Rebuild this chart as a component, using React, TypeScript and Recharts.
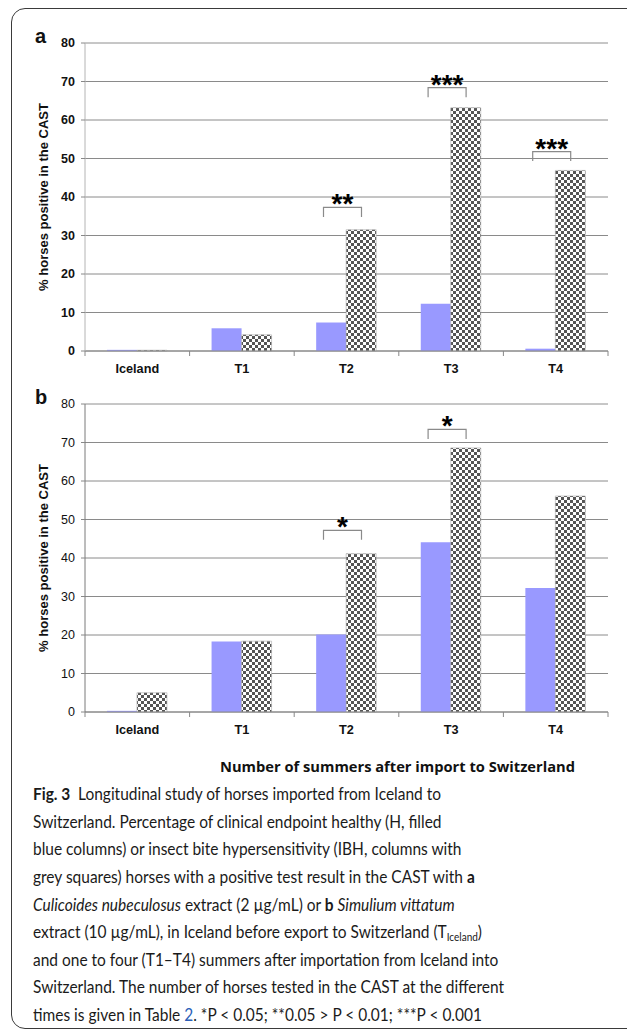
import React, { useLayoutEffect, useRef, useState } from 'react';
import { BarChart, Bar, XAxis, YAxis, CartesianGrid, ReferenceLine, ReferenceDot } from 'recharts';

const categories = ['Iceland', 'T1', 'T2', 'T3', 'T4'];
const yTicks = [0, 10, 20, 30, 40, 50, 60, 70, 80];

// panel a: Culicoides nubeculosus
const healthyA = [0.3, 5.9, 7.4, 12.3, 0.6];
const ibhA = [0.2, 4.2, 31.5, 63.2, 46.9];
const starsA = ['', '', '**', '***', '***'];
const bracketA = [null, null, 37.3, 68.4, 51.8];

// panel b: Simulium vittatum
const healthyB = [0.3, 18.3, 20.1, 44.1, 32.2];
const ibhB = [5.0, 18.4, 41.1, 68.6, 56.1];
const starsB = ['', '', '*', '*', ''];
const bracketB = [null, null, 47.2, 73.4, null];

const captionLines = [
  'Longitudinal study of horses imported from Iceland to',
  'Switzerland. Percentage of clinical endpoint healthy (H, filled',
  'blue columns) or insect bite hypersensitivity (IBH, columns with',
  'grey squares) horses with a positive test result in the CAST with ',
  ' extract (2 µg/mL) or ',
  'extract (10 µg/mL), in Iceland before export to Switzerland (T',
  'and one to four (T1–T4) summers after importation from Iceland into',
  'Switzerland. The number of horses tested in the CAST at the different',
  'times is given in Table ',
];
const captionEnds = [455, 391, 468, 477, 473, 494, 513, 516, 453];

const W = 627;
const CH = 390;
const M = { top: 43, right: 19, bottom: 9, left: 45 };
const YW = 40;
const PLOT_W = W - M.left - M.right - YW;
const HALF_BAND = PLOT_W / categories.length / 2;
const FONT = '"Liberation Sans", Arial, sans-serif';
const BLUE = '#9999ff';
const CAP_X = 33;

function rows(h: number[], ibh: number[]) {
  return categories.map((c, i) => ({ cat: c, h: h[i], ibh: ibh[i] }));
}

function XTick(props: any) {
  const { x, y, payload, index } = props;
  return (
    <g>
      <line x1={x - HALF_BAND} x2={x - HALF_BAND} y1={y} y2={y + 5} stroke="#888" />
      {index === categories.length - 1 && (
        <line x1={x + HALF_BAND} x2={x + HALF_BAND} y1={y} y2={y + 5} stroke="#888" />
      )}
      <text x={x} y={y + 21.5} textAnchor="middle" fontFamily={FONT} fontWeight={700} fontSize={12.7} fill="#111">
        {payload.value}
      </text>
    </g>
  );
}

function bracketShape(stars: string) {
  return (p: any) => {
    const cx = p.cx - 4;
    const cy = p.cy;
    return (
      <g>
        <path d={`M${cx - 19},${cy + 9.5} V${cy} H${cx + 19} V${cy + 9.5}`} stroke="#8a8a8a" strokeWidth={1.2} fill="none" />
        <text x={cx} y={cy + 6} textAnchor="middle" fontFamily={FONT} fontWeight={700} fontSize={28} fill="#000">
          {stars}
        </text>
      </g>
    );
  };
}

function Panel({ top, h, ibh, stars, brackets, boldTicks, axisColor, pattern }: {
  top: number; h: number[]; ibh: number[]; stars: string[]; brackets: (number | null)[];
  boldTicks: boolean; axisColor: string; pattern: string;
}) {
  return (
    <div style={{ position: 'absolute', left: 0, top }}>
      <BarChart width={W} height={CH} data={rows(h, ibh)} margin={M} barCategoryGap="21%" barGap={0}>
        <CartesianGrid vertical={false} stroke="#8a8a8a" />
        <XAxis dataKey="cat" height={30} tickLine={false} tickSize={0} tickMargin={0}
          axisLine={{ stroke: '#888' }} tick={(p: any) => <XTick {...p} />} interval={0} />
        <YAxis domain={[0, 80]} ticks={yTicks} width={YW} tickSize={4} tickMargin={6}
          tickLine={{ stroke: '#888' }} axisLine={{ stroke: axisColor }}
          tick={{ fontSize: 12.5, fontFamily: FONT, fontWeight: boldTicks ? 700 : 400, fill: '#111' }} />
        <YAxis yAxisId="frame" orientation="right" domain={[0, 80]} width={0} tick={false}
          tickLine={false} axisLine={{ stroke: '#c8c8c8' }} />
        <ReferenceLine y={80} stroke="#c8c8c8" />
        <Bar dataKey="h" fill={BLUE} isAnimationActive={false} />
        <Bar dataKey="ibh" fill={`url(#${pattern})`} stroke="#aaa" strokeWidth={0.6} isAnimationActive={false} />
        {categories.map((c, i) =>
          brackets[i] == null ? null : (
            <ReferenceDot key={c} x={c} y={brackets[i] as number} r={0} shape={bracketShape(stars[i])} />
          ),
        )}
      </BarChart>
    </div>
  );
}

export default function App() {
  const base = 800.7;
  const lh = 27.6;
  const refs = useRef<(HTMLSpanElement | null)[]>([]);
  const [sx, setSx] = useState(1);

  // one horizontal scale for the whole caption, fitted to the reference line lengths
  useLayoutEffect(() => {
    const measure = () => {
      let nat = 0;
      let tgt = 0;
      refs.current.forEach((el, i) => {
        if (el && el.offsetWidth > 0) {
          nat += el.offsetWidth;
          tgt += captionEnds[i] - CAP_X;
        }
      });
      if (nat > 0) setSx(tgt / nat);
    };
    measure();
    (document as any).fonts?.ready?.then(measure);
  }, []);

  const line = (i: number, content: React.ReactNode) => (
    <span
      key={i}
      ref={(el) => { refs.current[i] = el; }}
      style={{
        position: 'absolute', left: CAP_X, top: base + lh * i - 16.6, whiteSpace: 'nowrap',
        fontFamily: 'Lato, "Open Sans", sans-serif', fontSize: 17, lineHeight: '20px', color: '#1a1a1a',
        transform: `scaleX(${sx})`, transformOrigin: '0 0',
      }}
    >
      {content}
    </span>
  );

  return (
    <div style={{ position: 'absolute', left: 0, top: 0, width: W, height: 1029, overflow: 'hidden', background: '#fff' }}>
      <svg width={0} height={0} style={{ position: 'absolute' }}>
        <defs>
          <pattern id="checkA" width={6} height={6} patternUnits="userSpaceOnUse">
            <rect width={6} height={6} fill="#fff" />
            <rect width={3} height={3} fill="#555" />
            <rect x={3} y={3} width={3} height={3} fill="#555" />
          </pattern>
          <pattern id="checkB" width={6} height={6} patternUnits="userSpaceOnUse" y={1}>
            <rect width={6} height={6} fill="#fff" />
            <rect width={3} height={3} fill="#555" />
            <rect x={3} y={3} width={3} height={3} fill="#555" />
          </pattern>
        </defs>
      </svg>
      <div style={{ position: 'absolute', left: 11, top: 8, width: 660, height: 1019, border: '1.3px solid #3a3a3a', borderRadius: 14 }} />
      <Panel top={0} h={healthyA} ibh={ibhA} stars={starsA} brackets={bracketA} boldTicks axisColor="#b4b4b4" pattern="checkA" />
      <Panel top={361} h={healthyB} ibh={ibhB} stars={starsB} brackets={bracketB} boldTicks={false} axisColor="#7a7a7a" pattern="checkB" />
      <svg width={W} height={790} style={{ position: 'absolute', left: 0, top: 0, pointerEvents: 'none' }}>
        <g fontFamily={FONT} fontWeight={700} fill="#111">
          <text x={35} y={43} fontSize={20}>a</text>
          <text x={35} y={404} fontSize={20}>b</text>
          <text x={43.5} y={197} fontSize={13} textAnchor="middle" dominantBaseline="central" transform="rotate(-90 43.5 197)">
            % horses positive in the CAST
          </text>
          <text x={43.5} y={558} fontSize={13} textAnchor="middle" dominantBaseline="central" transform="rotate(-90 43.5 558)">
            % horses positive in the CAST
          </text>
        </g>
        <text x={220} y={771.5} fontFamily='"Open Sans", sans-serif' fontWeight={700} fontSize={14} fill="#111"
          textLength={355} lengthAdjust="spacingAndGlyphs">
          Number of summers after import to Switzerland
        </text>
      </svg>
      {line(0, <><b>Fig. 3</b>{'\u2002'}{captionLines[0]}</>)}
      {line(1, captionLines[1])}
      {line(2, captionLines[2])}
      {line(3, <>{captionLines[3]}<b>a</b></>)}
      {line(4, <><i>Culicoides nubeculosus</i>{captionLines[4]}<b>b</b> <i>Simulium vittatum</i></>)}
      {line(5, <>{captionLines[5]}<span style={{ fontSize: 11, verticalAlign: '-3px', lineHeight: 0 }}>Iceland</span>)</>)}
      {line(6, captionLines[6])}
      {line(7, captionLines[7])}
      {line(8, <>{captionLines[8]}<span style={{ color: '#2b5fb8' }}>2</span>. *P {'<'} 0.05; **0.05 {'>'} P {'<'} 0.01; ***P {'<'} 0.001</>)}
    </div>
  );
}
